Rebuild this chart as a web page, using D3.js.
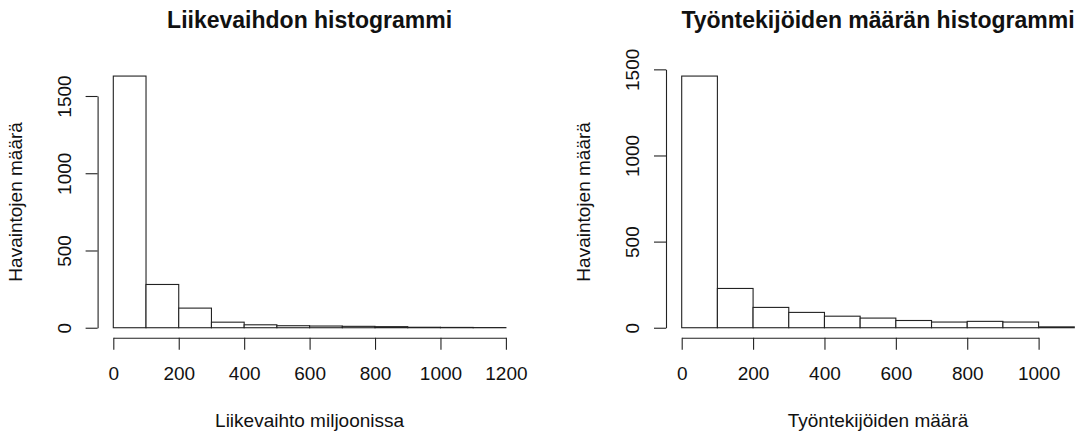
<!DOCTYPE html>
<html>
<head>
<meta charset="utf-8">
<script src="https://cdn.jsdelivr.net/npm/d3@7"></script>
<style>
  html, body { margin: 0; padding: 0; background: #fff; overflow: hidden; }
  svg text { font-family: "Liberation Sans", Arial, Helvetica, sans-serif; fill: #111; }
</style>
</head>
<body>
<svg id="chart" width="1080" height="434"></svg>
<script>
// Histogram data
const revenueBreaks = [0, 100, 200, 300, 400, 500, 600, 700, 800, 900, 1000, 1100, 1200];
const revenueCounts = [1629, 280, 127, 36, 19, 13, 11, 9, 7, 3, 2, 1];
const revenueXTicks = [0, 200, 400, 600, 800, 1000, 1200];

const staffBreaks = [0, 100, 200, 300, 400, 500, 600, 700, 800, 900, 1000, 1100];
const staffCounts = [1461, 228, 118, 89, 67, 56, 42, 33, 37, 33, 5];
const staffXTicks = [0, 200, 400, 600, 800, 1000];

const yTicksLeft = [0, 500, 1000, 1500];
const yTicksRight = [0, 500, 1000, 1500];

const titles = ['Liikevaihdon histogrammi', 'Työntekijöiden määrän histogrammi'];
const xTitles = ['Liikevaihto miljoonissa', 'Työntekijöiden määrä'];
const yTitle = 'Havaintojen määrä';

const svg = d3.select('#chart');

// plot region (R style, 4% padding around data range)
const plotTop = 66;
const plotBottom = 337.8;
const plotWidth = 424;
const stroke = '#222';

/**
 * Piirtää yhden R-tyylisen histogrammin
 */
function drawHist(opts) {
    const { left, breaks, counts, xTicks, yTicks, title, xTitle } = opts;
    const g = svg.append('g');

    const bMin = breaks[0], bMax = breaks[breaks.length - 1];
    const span = bMax - bMin;
    const x = d3.scaleLinear()
        .domain([bMin - 0.04 * span, bMax + 0.04 * span])
        .range([left, left + plotWidth]);

    const maxCount = d3.max(counts);
    const y = d3.scaleLinear()
        .domain([-0.04 * maxCount, 1.04 * maxCount])
        .range([plotBottom, plotTop]);

    const bins = counts.map((c, i) => ({ x0: breaks[i], x1: breaks[i + 1], n: c }));

    g.selectAll('rect.bar')
        .data(bins)
        .enter()
        .append('rect')
        .attr('class', 'bar')
        .attr('x', d => x(d.x0))
        .attr('width', d => x(d.x1) - x(d.x0))
        .attr('y', d => y(d.n))
        .attr('height', d => y(0) - y(d.n))
        .attr('fill', '#fff')
        .attr('stroke', stroke)
        .attr('stroke-width', 1.1);

    // x-akseli
    const xAxisScale = d3.scaleLinear()
        .domain(d3.extent(xTicks))
        .range([x(xTicks[0]), x(xTicks[xTicks.length - 1])]);
    const xAxis = g.append('g')
        .attr('transform', `translate(0,${plotBottom})`)
        .call(d3.axisBottom(xAxisScale).tickValues(xTicks).tickSize(12).tickSizeOuter(0).tickPadding(17).tickFormat(d3.format('d')));
    xAxis.select('.domain').attr('stroke', stroke).attr('stroke-width', 1.1);
    xAxis.selectAll('.tick line').attr('stroke', stroke).attr('stroke-width', 1.1);
    xAxis.selectAll('.tick text').attr('font-size', 19).attr('fill', '#111');
    xAxis.attr('font-family', null);

    // y-akseli
    const yAxisScale = d3.scaleLinear()
        .domain(d3.extent(yTicks))
        .range([y(yTicks[0]), y(yTicks[yTicks.length - 1])]);
    const yAxis = g.append('g')
        .attr('transform', `translate(${x(bMin - 0.04 * span)},0)`)
        .call(d3.axisLeft(yAxisScale).tickValues(yTicks).tickSize(12).tickSizeOuter(0).tickFormat(d3.format('d')));
    yAxis.select('.domain').attr('stroke', stroke).attr('stroke-width', 1.1);
    yAxis.selectAll('.tick line').attr('stroke', stroke).attr('stroke-width', 1.1);
    yAxis.selectAll('.tick text')
        .attr('font-size', 19)
        .attr('fill', '#111')
        .attr('transform', 'rotate(-90)')
        .attr('x', 0)
        .attr('y', -27)
        .attr('dy', null)
        .attr('text-anchor', 'middle');
    yAxis.attr('font-family', null);

    const cx = left + plotWidth / 2;
    g.append('text')
        .attr('x', cx)
        .attr('y', 27.7)
        .attr('text-anchor', 'middle')
        .attr('font-size', 23)
        .attr('font-weight', 'bold')
        .text(title);

    g.append('text')
        .attr('x', cx)
        .attr('y', 427.3)
        .attr('text-anchor', 'middle')
        .attr('font-size', 19)
        .text(xTitle);

    g.append('text')
        .attr('transform', `translate(${left - 75.6},${(plotTop + plotBottom) / 2}) rotate(-90)`)
        .attr('text-anchor', 'middle')
        .attr('font-size', 19)
        .text(yTitle);
}

drawHist({
    left: 97.6,
    breaks: revenueBreaks,
    counts: revenueCounts,
    xTicks: revenueXTicks,
    yTicks: yTicksLeft,
    title: titles[0],
    xTitle: xTitles[0]
});

drawHist({
    left: 666,
    breaks: staffBreaks,
    counts: staffCounts,
    xTicks: staffXTicks,
    yTicks: yTicksRight,
    title: titles[1],
    xTitle: xTitles[1]
});
</script>
</body>
</html>
